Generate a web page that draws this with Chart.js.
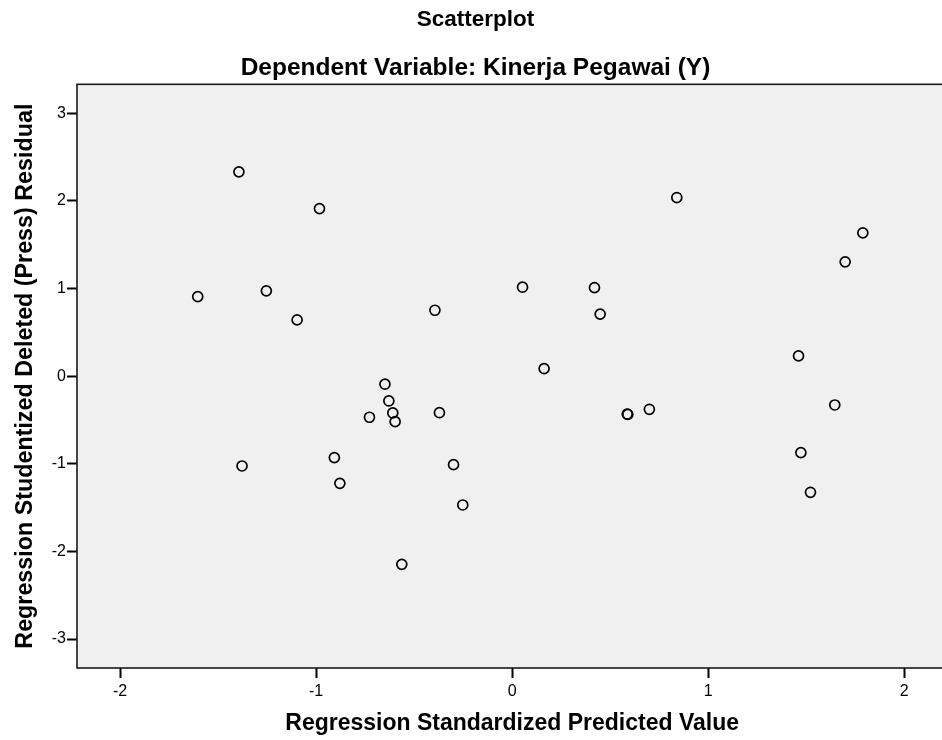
<!DOCTYPE html>
<html>
<head>
<meta charset="utf-8">
<title>Scatterplot</title>
<script src="https://cdn.jsdelivr.net/npm/chart.js@4.4.1/dist/chart.umd.min.js"></script>
<style>
  html, body { margin: 0; padding: 0; background: #fff; overflow: hidden; }
  #chart { display: block; }
</style>
</head>
<body>
<canvas id="chart" width="954" height="740"></canvas>
<script>
// Regression Standardized Predicted Value (x)
const predicted = [
  -1.394, -0.983, -1.604, -1.254, -1.097, -0.394, 0.053, 0.420, 0.449, 0.163,
  0.840, 1.789, 1.699, 1.461, 1.646, 1.473, 1.522, 0.587, 0.590, 0.700,
  -0.649, -0.629, -0.609, -0.597, -0.728, -0.371, -1.378, -0.907, -0.879, -0.299,
  -0.252, -0.563
];

// Regression Studentized Deleted (Press) Residual (y)
const residual = [
  2.331, 1.912, 0.908, 0.973, 0.642, 0.752, 1.015, 1.010, 0.707, 0.086,
  2.038, 1.635, 1.304, 0.231, -0.329, -0.873, -1.325, -0.432, -0.437, -0.378,
  -0.092, -0.283, -0.420, -0.519, -0.469, -0.417, -1.025, -0.930, -1.223, -1.010,
  -1.470, -2.147
];

const xTicks = [-2, -1, 0, 1, 2];
const yTicks = [-3, -2, -1, 0, 1, 2, 3];

const FONT = '"Liberation Sans", Arial, sans-serif';

// gray plot background + frame, like the SPSS output
const plotFrame = {
  id: 'plotFrame',
  beforeDraw(chart) {
    const { ctx, chartArea: a } = chart;
    ctx.save();
    ctx.fillStyle = '#f0f0f0';
    ctx.fillRect(a.left, a.top, a.right - a.left, a.bottom - a.top);
    ctx.restore();
  },
  beforeDatasetsDraw(chart) {
    const { ctx, chartArea: a } = chart;
    ctx.save();
    ctx.strokeStyle = '#1a1a1a';
    ctx.lineWidth = 1.6;
    ctx.strokeRect(a.left, a.top, a.right - a.left, a.bottom - a.top);
    ctx.restore();
  }
};

Chart.defaults.color = '#000';
Chart.defaults.font.family = FONT;

const points = predicted.map((x, i) => ({ x: x, y: residual[i] }));

new Chart(document.getElementById('chart'), {
  type: 'scatter',
  data: {
    datasets: [{
      data: points,
      pointStyle: 'circle',
      pointRadius: 5,
      pointHoverRadius: 5,
      pointBorderWidth: 1.7,
      pointBorderColor: '#000',
      pointBackgroundColor: 'rgba(0,0,0,0)'
    }]
  },
  options: {
    responsive: false,
    animation: false,
    layout: { padding: { left: 0, right: 3, top: 0, bottom: 0 } },
    plugins: {
      legend: { display: false },
      tooltip: { enabled: false },
      title: {
        display: true,
        text: 'Scatterplot',
        color: '#000',
        font: { size: 22.5, weight: 'bold', family: FONT },
        padding: { top: 6.3, bottom: 0 }
      },
      subtitle: {
        display: true,
        text: 'Dependent Variable: Kinerja Pegawai (Y)',
        color: '#000',
        font: { size: 24.5, weight: 'bold', family: FONT },
        padding: { top: 20, bottom: 1.6 }
      }
    },
    scales: {
      x: {
        type: 'linear',
        min: -2.22,
        max: 2.22,
        afterBuildTicks(scale) { scale.ticks = xTicks.map(v => ({ value: v })); },
        afterFit(scale) { scale.height = 72; },
        grid: { drawOnChartArea: false, drawTicks: true, tickLength: 10, tickWidth: 2, tickColor: '#000' },
        border: { display: false },
        ticks: { color: '#000', font: { size: 16, family: FONT }, padding: 4, maxRotation: 0 },
        title: {
          display: true,
          text: 'Regression Standardized Predicted Value',
          color: '#000',
          font: { size: 23, weight: 'bold', family: FONT },
          padding: { top: 0, bottom: 3 }
        }
      },
      y: {
        type: 'linear',
        min: -3.33,
        max: 3.33,
        afterBuildTicks(scale) { scale.ticks = yTicks.map(v => ({ value: v })); },
        afterFit(scale) { scale.width = 77; },
        grid: { drawOnChartArea: false, drawTicks: true, tickLength: 10, tickWidth: 2, tickColor: '#000' },
        border: { display: false },
        ticks: { color: '#000', font: { size: 16, family: FONT }, padding: 1 },
        title: {
          display: true,
          text: 'Regression Studentized Deleted (Press) Residual',
          color: '#000',
          font: { size: 23.3, weight: 'bold', family: FONT },
          padding: { top: 12, bottom: 0 }
        }
      }
    }
  },
  plugins: [plotFrame]
});
</script>
</body>
</html>
